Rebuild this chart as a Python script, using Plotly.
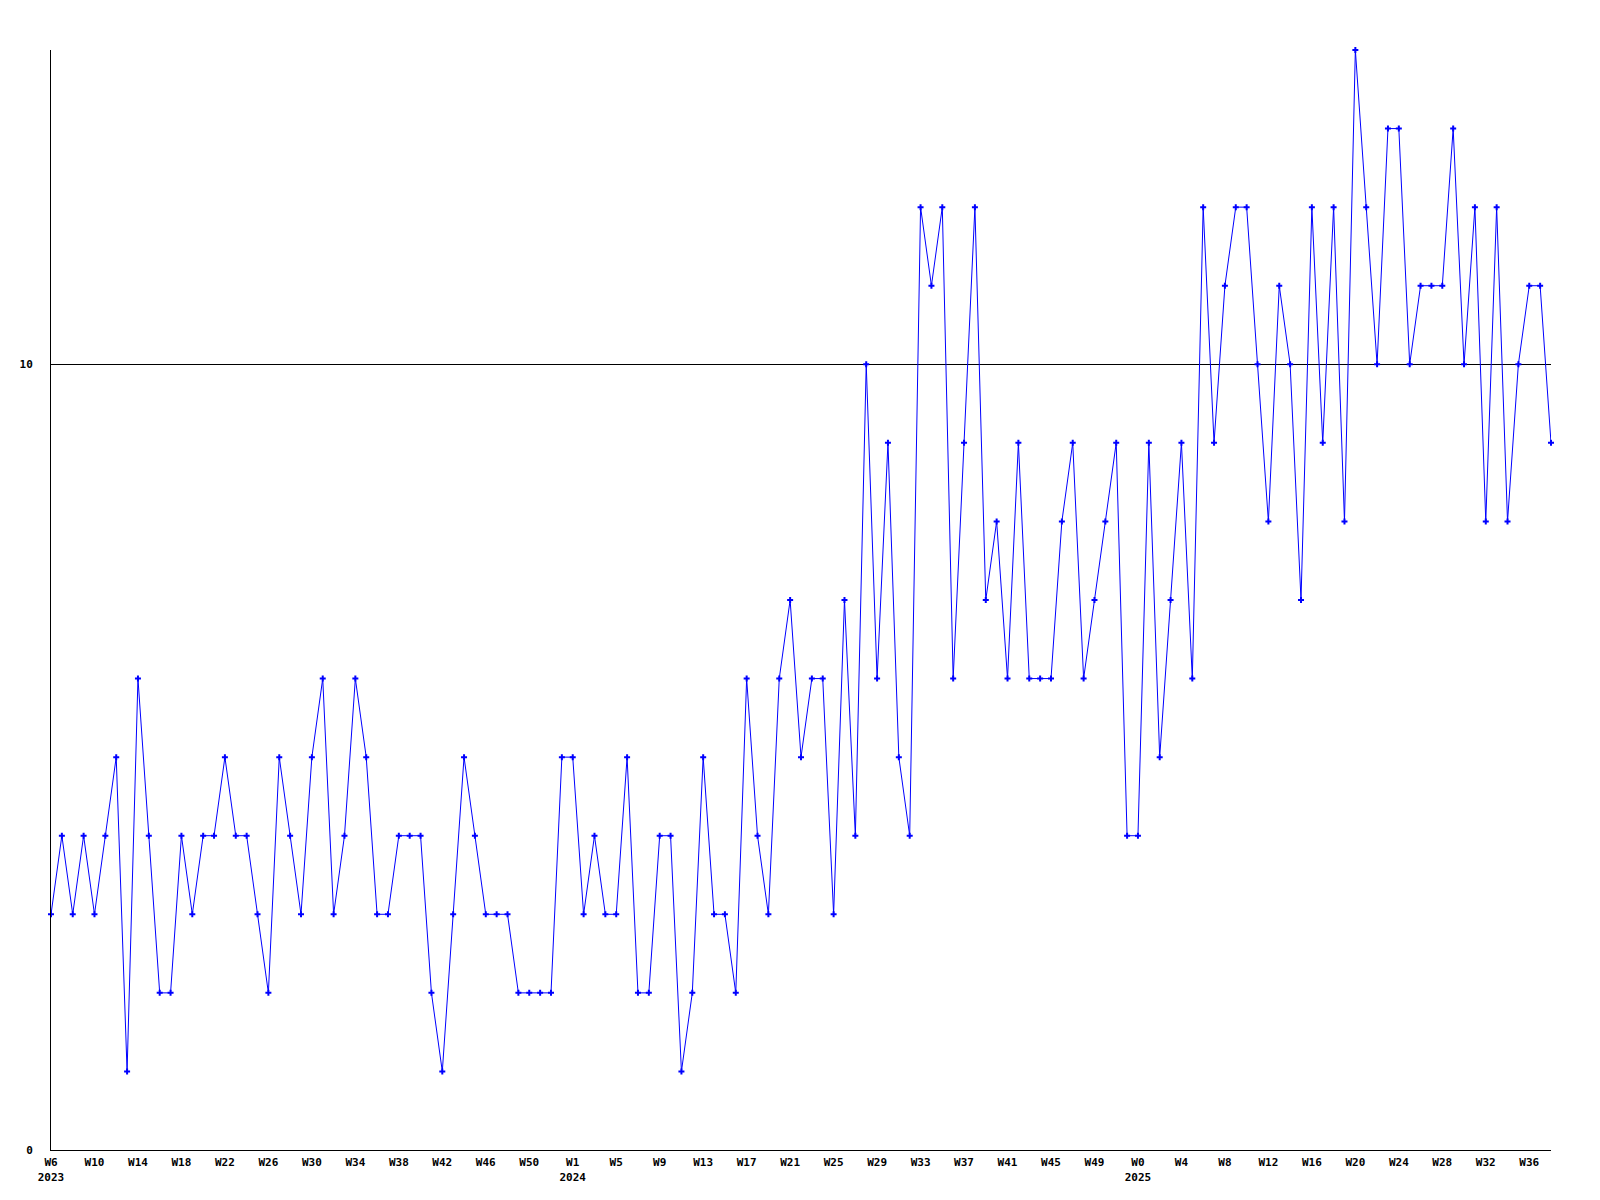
import plotly.graph_objects as go

BLUE = "#0000FF"

# weekly counts, one per week from 2023 W6 to 2025 W38
counts = [
    3, 4, 3, 4, 3, 4, 5, 1, 6, 4, 2, 2, 4, 3, 4, 4, 5, 4, 4, 3, 2, 5, 4, 3, 5,
    6, 3, 4, 6, 5, 3, 3, 4, 4, 4, 2, 1, 3, 5, 4, 3, 3, 3, 2, 2, 2, 2, 5, 5,
    3, 4, 3, 3, 5, 2, 2, 4, 4, 1, 2, 5, 3, 3, 2, 6, 4, 3, 6, 7, 5, 6, 6,
    3, 7, 4, 10, 6, 9, 5, 4, 12, 11, 12, 6, 9, 12, 7, 8, 6, 9, 6, 6, 6, 8, 9, 6,
    7, 8, 9, 4, 4, 9, 5, 7, 9, 6, 12, 9, 11, 12, 12, 10, 8, 11, 10, 7, 12, 9, 12, 8,
    14, 12, 10, 13, 13, 10, 11, 11, 11, 13, 10, 12, 8, 12, 8, 10, 11, 11, 9,
]

# x tick labels, one every 4 weeks
week_labels = [
    "W6", "W10", "W14", "W18", "W22", "W26", "W30", "W34", "W38", "W42", "W46", "W50",
    "W1", "W5", "W9", "W13", "W17", "W21", "W25", "W29", "W33", "W37", "W41", "W45", "W49",
    "W0", "W4", "W8", "W12", "W16", "W20", "W24", "W28", "W32", "W36",
]
year_labels = {"W6": "2023", "W1": "2024", "W0": "2025"}

y_ticks = [0, 10]

x = list(range(len(counts)))
tickvals = x[::4]
ticktext = []
for w in week_labels:
    if w in year_labels:
        ticktext.append(f"<b>{w}</b><br><b>{year_labels[w]}</b>")
    else:
        ticktext.append(f"<b>{w}</b>")

fig = go.Figure(go.Scatter(
    x=x,
    y=counts,
    mode="lines+markers",
    line=dict(color=BLUE, width=1),
    marker=dict(symbol="cross", size=5, color=BLUE),
    cliponaxis=False,
    hovertemplate="%{y}<extra></extra>",
))

# page body adds 8px, so the figure is a bit smaller than the window
fig.update_layout(
    width=1592,
    height=1192,
    paper_bgcolor="white",
    plot_bgcolor="white",
    showlegend=False,
    font=dict(family="DejaVu Sans Mono", size=11, color="black"),
    margin=dict(l=43, r=49, t=42, b=50),
    xaxis=dict(
        range=[0, len(counts) - 1],
        tickvals=tickvals,
        ticktext=ticktext,
        showgrid=False,
        zeroline=False,
        showline=True,
        linecolor="black",
        linewidth=1,
        ticks="",
        ticklabelstandoff=2,
    ),
    yaxis=dict(
        range=[0, 14],
        tickvals=y_ticks,
        ticktext=[f"<b>{v}</b>" for v in y_ticks],
        showgrid=True,
        gridcolor="black",
        gridwidth=1,
        zeroline=False,
        showline=True,
        linecolor="black",
        linewidth=1,
        ticks="",
        ticklabelstandoff=15,
    ),
)

fig.write_html("out.html")
